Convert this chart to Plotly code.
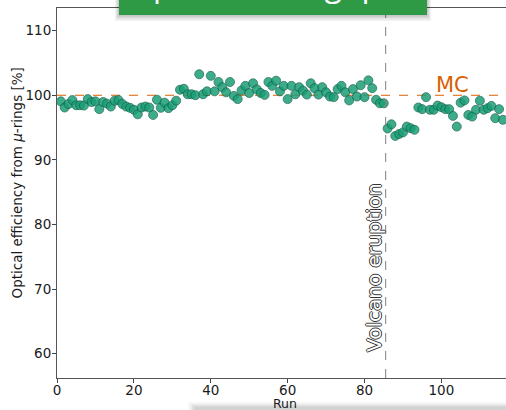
import plotly.graph_objects as go

runs = list(range(1, 117))
efficiency = [
    99.05, 98.1, 98.65, 99.25, 98.45, 98.45, 98.4, 99.4, 98.95, 99.05,
    97.85, 98.95, 98.7, 98.25, 99.15, 99.25, 98.65, 98.25, 98.05, 97.75,
    97.05, 98.1, 98.25, 98.1, 96.95, 99.3, 98.05, 98.85, 98.0, 98.45,
    99.15, 100.85, 101.0, 100.15, 100.15, 100.0, 103.25, 100.15, 100.6, 103.0,
    100.6, 102.05, 101.25, 100.45, 102.05, 99.9, 99.4, 100.75, 101.45, 100.35,
    101.85, 100.9, 100.35, 100.05, 102.05, 101.45, 102.25, 100.6, 101.45, 99.4,
    101.45, 100.15, 101.25, 100.7, 100.1, 101.85, 101.1, 100.1, 101.25, 100.45,
    99.8, 99.7, 100.95, 101.45, 100.45, 99.2, 100.95, 99.8, 101.55, 99.7,
    102.3, 101.1, 99.3, 98.75, 98.75, 94.85, 95.5, 93.7, 94.0, 94.25,
    95.15, 94.9, 94.65, 98.1, 97.85, 99.7, 97.75, 97.75, 98.4, 98.15,
    97.85, 97.85, 96.8, 95.15, 98.85, 99.2, 96.95, 96.7, 97.75, 99.15,
    97.75, 98.0, 98.35, 96.45, 97.85, 96.2,
]
mc_level = 100
volcano_run = 85.5
x_ticks = [0, 20, 40, 60, 80, 100]
y_ticks = [60, 70, 80, 90, 100, 110]

W, H = 506, 410
L, R, T, B = 57, 0, 8, 32
pw, ph = W - L - R, H - T - B

def px(xp):
    return (xp - L) / pw

def py(yp):
    return 1 + (T - yp) / ph

fig = go.Figure()
fig.add_trace(go.Scatter(
    x=runs, y=efficiency, mode="markers",
    marker=dict(size=9, color="#1b9e77", opacity=0.85,
                line=dict(color="#0f5e46", width=0.8)),
    showlegend=False, hoverinfo="x+y",
))

shapes = [
    dict(type="line", xref="x", yref="y", x0=0, x1=116.8, y0=mc_level, y1=mc_level,
         line=dict(color="#d95f02", width=1.2, dash="dash"), layer="below"),
    dict(type="line", xref="x", yref="paper", x0=volcano_run, x1=volcano_run, y0=0, y1=1,
         line=dict(color="#808080", width=1, dash="dash"), layer="above"),
]
# shadow of green header box
for i, a in enumerate([0.05, 0.05, 0.06, 0.07]):
    shapes.append(dict(type="rect", xref="paper", yref="paper",
                       x0=px(119 - 4 + i), x1=px(427 + 4 - i), y0=py(15 + 6 - 1.5 * i), y1=py(0),
                       fillcolor=f"rgba(0,0,0,{a})", line=dict(width=0), layer="above"))
shapes.append(dict(type="rect", xref="paper", yref="paper",
                   x0=px(119), x1=px(427), y0=py(15), y1=py(-2),
                   fillcolor="#2f9a45", line=dict(width=0), layer="above"))
# shadow of lower slide element
for i, a in enumerate([0.03, 0.04, 0.05, 0.06]):
    shapes.append(dict(type="rect", xref="paper", yref="paper",
                       x0=px(188 + 2 * i), x1=px(506), y0=py(412), y1=py(402 + 1.5 * i),
                       fillcolor=f"rgba(0,0,0,{a})", line=dict(width=0), layer="above"))

annotations = [
    dict(text="MC", x=103, y=mc_level, xref="x", yref="y", xanchor="center", yanchor="bottom",
         yshift=-4, showarrow=False, font=dict(family="DejaVu Sans", size=21, color="#d95f02")),
    dict(text="Volcano eruption", x=volcano_run, y=60, xref="x", yref="y",
         xanchor="right", yanchor="bottom", xshift=3, textangle=-90, showarrow=False,
         font=dict(family="DejaVu Sans", size=20, color="white",
                   shadow="1px 0 0 #333, -1px 0 0 #333, 0 1px 0 #333, 0 -1px 0 #333")),
    dict(text="Run", x=px(285), y=py(403), xref="paper", yref="paper", xanchor="center",
         yanchor="middle", showarrow=False, borderpad=0,
         font=dict(family="DejaVu Sans", size=12.5, color="#1a1a1a")),
    dict(text="Optical efficiency from <i>μ</i>-rings [%]", x=px(17), y=py(183.5),
         xref="paper", yref="paper", xanchor="center", yanchor="middle", textangle=-90,
         showarrow=False, font=dict(family="DejaVu Sans", size=13.5, color="#1a1a1a")),
    dict(text="Optical throughput", x=px(270), y=py(7), xref="paper", yref="paper",
         xanchor="center", yanchor="bottom", showarrow=False,
         font=dict(family="Open Sans", size=32, color="white")),
]

fig.update_layout(
    width=W, height=H, margin=dict(l=L, r=R, t=T, b=B),
    paper_bgcolor="white", plot_bgcolor="white",
    shapes=shapes, annotations=annotations,
    xaxis=dict(range=[0, 116.8], tickvals=x_ticks, ticks="outside", ticklen=4,
               tickcolor="#444", showline=True, linecolor="#555", linewidth=1, mirror=True,
               showgrid=False, zeroline=False, ticklabelstandoff=-4,
               tickfont=dict(family="DejaVu Sans", size=13.5, color="#1a1a1a")),
    yaxis=dict(range=[56.24, 113.5], tickvals=y_ticks, ticks="outside", ticklen=4,
               tickcolor="#444", showline=True, linecolor="#555", linewidth=1,
               showgrid=False, zeroline=False, ticklabelstandoff=-2,
               tickfont=dict(family="DejaVu Sans", size=13.5, color="#1a1a1a")),
)

fig.write_html("out.html", config={"displayModeBar": False},
               post_script="document.body.style.margin='0';document.body.style.overflow='hidden';")
